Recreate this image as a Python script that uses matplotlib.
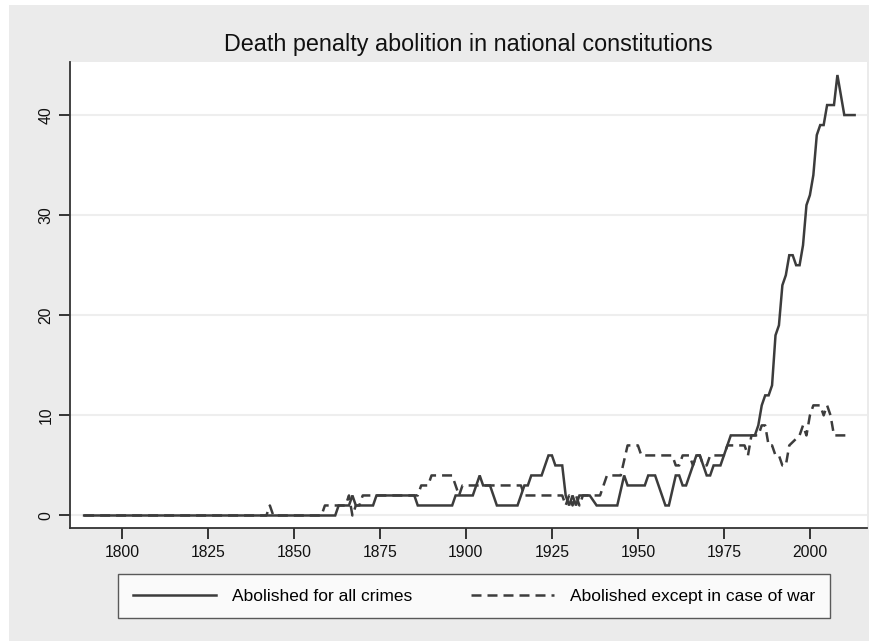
import matplotlib
matplotlib.use("Agg")
import matplotlib.pyplot as plt
from matplotlib.patches import Rectangle
from matplotlib.lines import Line2D

plt.rcParams['font.family'] = ['Liberation Sans', 'DejaVu Sans']

# Abolished for all crimes (year, count) vertices
years_all = [1789, 1862, 1863, 1866, 1867, 1868, 1873, 1874, 1885, 1886,
             1896, 1897, 1902, 1904, 1905, 1907, 1909, 1915, 1917, 1918,
             1919, 1922, 1924, 1925, 1926, 1928, 1929, 1930, 1931, 1932,
             1933, 1936, 1938, 1944, 1946, 1947, 1952, 1953, 1955, 1956,
             1958, 1959, 1961, 1962, 1963, 1964, 1967, 1968, 1969, 1970,
             1971, 1972, 1974, 1975, 1976, 1977, 1984, 1985, 1986, 1987,
             1988, 1989, 1990, 1991, 1992, 1993, 1994, 1995, 1996, 1997,
             1998, 1999, 2000, 2001, 2002, 2003, 2004, 2005, 2007, 2008,
             2010, 2013]
vals_all = [0, 0, 1, 1, 2, 1, 1, 2, 2, 1,
            1, 2, 2, 4, 3, 3, 1, 1, 3, 3,
            4, 4, 6, 6, 5, 5, 2, 1, 2, 1,
            2, 2, 1, 1, 4, 3, 3, 4, 4, 3,
            1, 1, 4, 4, 3, 3, 6, 6, 5, 4,
            4, 5, 5, 6, 7, 8, 8, 9, 11, 12,
            12, 13, 18, 19, 23, 24, 26, 26, 25, 25,
            27, 31, 32, 34, 38, 39, 39, 41, 41, 44,
            40, 40]

# Abolished except in case of war (year, count) vertices
years_war = [1789, 1842, 1843, 1844, 1858, 1859, 1865, 1866, 1867, 1868,
             1869, 1870, 1886, 1887, 1889, 1890, 1896, 1897, 1898, 1899,
             1916, 1917, 1928, 1929, 1930, 1931, 1932, 1933, 1934, 1939,
             1940, 1941, 1945, 1947, 1950, 1951, 1960, 1961, 1962, 1963,
             1965, 1966, 1967, 1968, 1969, 1970, 1971, 1975, 1976, 1981,
             1982, 1983, 1985, 1986, 1987, 1988, 1989, 1990, 1991, 1992,
             1993, 1994, 1997, 1998, 1999, 2000, 2001, 2003, 2004, 2005,
             2006, 2007, 2012]
vals_war = [0, 0, 1, 0, 0, 1, 1, 2, 0, 1,
            1, 2, 2, 3, 3, 4, 4, 3, 2, 3,
            3, 2, 2, 1, 2, 1, 2, 1, 2, 2,
            3, 4, 4, 7, 7, 6, 6, 5, 5, 6,
            6, 5, 6, 6, 5, 5, 6, 6, 7, 7,
            6, 8, 8, 9, 9, 7, 7, 6, 6, 5,
            5, 7, 8, 9, 8, 10, 11, 11, 10, 11,
            10, 8, 8]

x_ticks = [1800, 1825, 1850, 1875, 1900, 1925, 1950, 1975, 2000]
y_ticks = [0, 10, 20, 30, 40]
title = "Death penalty abolition in national constitutions"
labels = ["Abolished for all crimes", "Abolished except in case of war"]

W, H = 870, 641
fig = plt.figure(figsize=(W / 100, H / 100), dpi=100, facecolor='white')
fig.patches.append(Rectangle((9 / W, 0), 1 - 9 / W, 1 - 5 / H,
                             transform=fig.transFigure, facecolor='#ebebeb',
                             edgecolor='none', zorder=-10))

ax = fig.add_axes([70 / W, (H - 528) / H, (867 - 70) / W, (528 - 62) / H])
ax.set_facecolor('white')
line_col = '#3c3c3c'
ax.plot(years_all, vals_all, color=line_col, lw=1.8, solid_joinstyle='miter', zorder=3)
ax.plot(years_war, vals_war, color=line_col, lw=1.8, linestyle=(0, (4, 2.4)), zorder=3)

ax.set_xlim(1784.9, 2016.6)
ax.set_ylim(-1.25, 45.3)
ax.set_xticks(x_ticks)
ax.set_yticks(y_ticks)
ax.set_yticklabels([str(v) for v in y_ticks], rotation=90, va='center')
ax.tick_params(axis='both', direction='out', length=8, width=1.4, color='#333333',
               labelsize=11.3, labelcolor='#111111', pad=4)
ax.grid(axis='y', color='#eeeeee', lw=1.5, zorder=0)
ax.grid(axis='x', visible=False)
for s in ['top', 'right']:
    ax.spines[s].set_visible(False)
for s in ['left', 'bottom']:
    ax.spines[s].set_color('#333333')
    ax.spines[s].set_linewidth(1.3)

fig.text(0.5 * (70 + 867) / W, 1 - 44 / H, title, ha='center', va='center',
         fontsize=16.8, color='#111111')

handles = [Line2D([], [], color=line_col, lw=1.8),
           Line2D([], [], color=line_col, lw=1.8, linestyle=(0, (4, 2.4)))]
leg = fig.legend(handles, labels, loc='center', ncol=2,
                 bbox_to_anchor=((113 + 835) / 2 / W, 1 - 596 / H),
                 frameon=True, fancybox=False, prop={'size': 12.5},
                 handlelength=4.8, columnspacing=3.4, handletextpad=0.9,
                 borderpad=0.85, borderaxespad=0)
leg.get_frame().set_edgecolor('#333333')
leg.get_frame().set_linewidth(1.0)
leg.get_frame().set_facecolor('white')

fig.savefig('out.png', dpi=100, facecolor=fig.get_facecolor())
